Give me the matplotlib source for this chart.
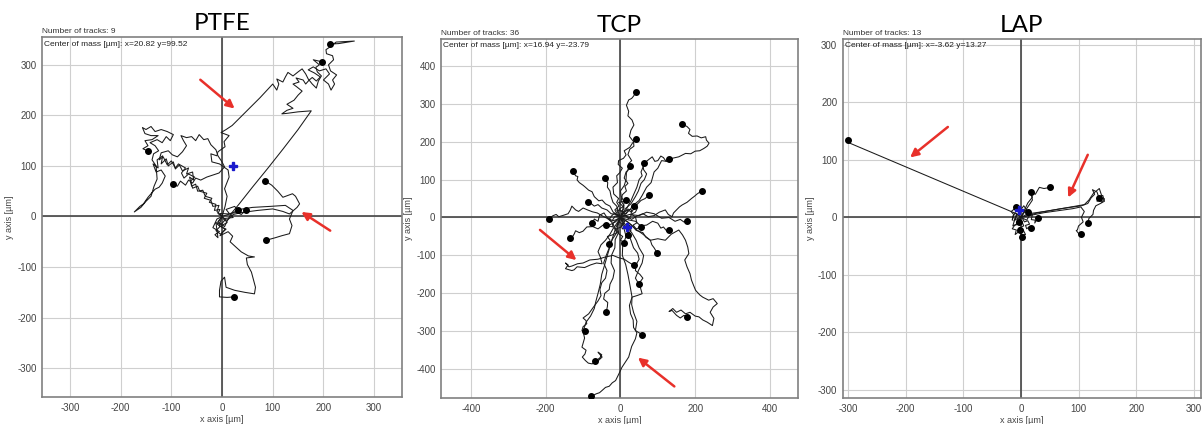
import matplotlib.pyplot as plt

plt.rcParams['axes.unicode_minus'] = False

# ---- data (track points in um, last point = end dot) ----
titles = ['PTFE', 'TCP', 'LAP']
n_tracks = [9, 36, 13]
center_of_mass = [(20.82, 99.52), (16.94, -23.79), (-3.62, 13.27)]

ptfe_tracks = [
    [(0, 0), (-8, -10), (5, -20), (12, -5), (20, 8), (34, 25), (60, 58), (90, 95), (120, 133), (150, 172),
     (176, 209), (150, 207), (128, 204), (118, 203), (128, 210), (140, 214), (128, 222), (142, 230), (150, 240),
     (158, 248), (148, 256), (140, 262), (152, 266), (146, 274), (160, 270), (165, 262), (172, 270), (178, 275),
     (186, 268), (194, 276), (182, 284), (170, 290), (180, 296), (192, 288), (205, 292), (212, 282), (200, 270),
     (210, 262), (215, 250), (222, 262), (218, 270), (226, 280), (214, 288), (210, 300), (220, 310), (218, 318),
     (206, 322), (205, 330), (214, 336), (225, 345), (261, 347), (230, 342), (212, 341)],
    [(0, 0), (6, 20), (10, 40), (5, 55), (14, 78), (12, 92), (-5, 104), (-20, 108), (-22, 124), (-10, 120),
     (-8, 128), (6, 138), (4, 148), (14, 160), (-2, 166), (8, 172), (20, 180), (45, 205), (75, 235), (100, 262),
     (108, 250), (112, 262), (108, 272), (120, 266), (125, 276), (130, 285), (140, 278), (150, 286), (158, 292),
     (165, 282), (170, 272), (178, 262), (186, 254), (190, 268), (196, 278), (188, 286), (185, 295), (192, 300),
     (180, 310), (197, 306)],
    [(0, 0), (10, -8), (22, 4), (40, 8), (70, 12), (100, 15), (120, 10), (133, 5), (148, 18), (153, 25),
     (145, 40), (139, 45), (120, 38), (110, 50), (98, 62), (84, 71)],
    [(0, 0), (18, 6), (35, 14), (60, 18), (95, 20), (125, 22), (140, 12), (133, -5), (138, -18), (133, -34),
     (118, -38), (105, -42), (87, -47)],
    [(0, 0), (-6, -18), (8, -25), (-3, -35), (-12, -28), (-4, -20), (10, -12), (4, -4), (22, -2), (16, 6),
     (30, 8), (38, 4), (47, 12)],
    [(0, 0), (-10, -5), (-18, -22), (-5, -30), (-14, -36), (-8, -42), (-12, -12), (-2, -16), (5, -8), (-4, 6),
     (15, 5), (8, 14), (25, 20), (31, 12)],
    [(0, 0), (-10, -15), (6, -25), (-4, -38), (12, -30), (21, -39), (16, -50), (28, -61), (38, -70), (52, -78),
     (64, -80), (48, -82), (50, -95), (58, -110), (62, -125), (66, -140), (64, -153), (45, -150), (25, -146),
     (8, -140), (5, -120), (-2, -128), (-5, -146), (-5, -159), (10, -160), (24, -159)],
    [(0, 0), (-8, 6), (-4, 14), (-15, 12), (-12, 24), (-25, 28), (-20, 36), (-33, 40), (-38, 52), (-48, 50),
     (-52, 64), (-60, 60), (-64, 78), (-56, 72), (-58, 88), (-70, 84), (-66, 96), (-78, 90), (-84, 102),
     (-92, 94), (-96, 108), (-106, 100), (-110, 114), (-120, 104), (-117, 120), (-128, 112), (-126, 96),
     (-136, 104), (-130, 88), (-120, 92), (-112, 80), (-118, 66), (-124, 58), (-132, 54), (-140, 45),
     (-146, 38), (-155, 25), (-162, 20), (-173, 9), (-160, 18), (-150, 30), (-140, 40), (-134, 60),
     (-128, 74), (-130, 100), (-138, 112), (-135, 124), (-125, 130), (-132, 140), (-142, 146), (-128, 152),
     (-118, 146), (-110, 158), (-102, 150), (-96, 162), (-108, 168), (-120, 172), (-132, 168), (-140, 178),
     (-150, 172), (-157, 176), (-152, 164), (-140, 160), (-126, 160), (-138, 152), (-152, 150), (-146, 140),
     (-156, 134), (-145, 129)],
    [(0, 0), (-10, 10), (-6, 22), (-18, 20), (-22, 32), (-35, 36), (-30, 46), (-44, 50), (-48, 60), (-58, 56),
     (-62, 70), (-54, 78), (-66, 84), (-75, 76), (-80, 86), (-72, 96), (-86, 104), (-92, 96), (-100, 110),
     (-108, 102), (-116, 118), (-124, 112), (-120, 126), (-106, 130), (-98, 122), (-88, 118), (-78, 128),
     (-70, 140), (-76, 150), (-81, 160), (-70, 156), (-60, 158), (-52, 150), (-45, 162), (-36, 152),
     (-28, 154), (-22, 142), (-12, 132), (-8, 120), (0, 108), (5, 98), (-6, 86), (-18, 82), (-30, 78),
     (-42, 72), (-52, 76), (-58, 66), (-66, 72), (-72, 62), (-82, 70), (-88, 60), (-97, 64)],
]

tcp_tracks = [
    [(0, 0), (8, 14), (-4, 22), (10, 30), (2, 44), (5, 60), (16, 70), (12, 82), (20, 90), (10, 104), (15, 120),
     (26, 130), (22, 142), (30, 150), (20, 166), (25, 180), (36, 188), (35, 200), (24, 214), (28, 230),
     (36, 244), (31, 257), (20, 268), (22, 280), (16, 296), (22, 310), (30, 314), (35, 320), (42, 332)],
    [(0, 0), (-8, 8), (-15, 20), (-4, 30), (-10, 40), (-5, 50), (-18, 62), (-20, 80), (-8, 92), (-10, 110),
     (-2, 118), (5, 130), (-6, 140), (-5, 150), (8, 156), (15, 165), (10, 176), (25, 185), (32, 196), (42, 206)],
    [(0, 0), (12, 8), (25, 20), (34, 32), (50, 45), (58, 58), (70, 80), (82, 92), (90, 120), (100, 130),
     (110, 150), (124, 148), (138, 156), (156, 160), (174, 169), (188, 168), (200, 175), (212, 176), (223, 182),
     (232, 188), (237, 196), (230, 204), (228, 213), (216, 210), (205, 215), (192, 214), (182, 222), (186, 232),
     (178, 240), (165, 246)],
    [(0, 0), (6, 12), (15, 25), (28, 36), (40, 55), (48, 70), (55, 90), (64, 100), (70, 115), (62, 126),
     (60, 140), (72, 150), (85, 160), (92, 148), (100, 150), (108, 162), (115, 158), (122, 148), (131, 154)],
    [(0, 0), (-10, 6), (-20, 15), (-28, 30), (-40, 36), (-49, 46), (-58, 44), (-70, 55), (-76, 68), (-85, 72),
     (-94, 80), (-100, 85), (-110, 92), (-116, 99), (-114, 108), (-120, 110), (-127, 122)],
    [(0, 0), (14, 6), (30, -5), (44, 4), (60, 10), (74, 2), (90, 5), (104, 14), (120, 20), (128, 8), (138, 2),
     (142, 12), (150, 20), (158, 28), (165, 33), (178, 40), (190, 50), (198, 56), (205, 62), (217, 70)],
    [(0, 0), (-12, -6), (-25, -10), (-36, -2), (-50, 5), (-62, 12), (-75, 15), (-88, 20), (-100, 25),
     (-112, 16), (-120, 20), (-130, 30), (-134, 20), (-140, 10), (-152, 6), (-165, 2), (-172, 8), (-180, 5),
     (-192, -3)],
    [(0, 0), (-14, -12), (-30, -20), (-44, -18), (-60, -30), (-74, -24), (-90, -25), (-100, -36), (-110, -40),
     (-120, -35), (-124, -44), (-128, -50), (-135, -55)],
    [(0, 0), (-10, -16), (-20, -30), (-28, -44), (-40, -60), (-52, -72), (-60, -90), (-54, -104), (-49, -122),
     (-64, -120), (-80, -125), (-96, -132), (-116, -130), (-124, -138), (-130, -140), (-147, -135),
     (-140, -125), (-147, -120), (-138, -130), (-130, -128), (-115, -122), (-100, -120), (-82, -112),
     (-60, -110), (-40, -104), (-20, -100), (-5, -106), (10, -110), (22, -118), (36, -126)],
    [(0, 0), (-6, -20), (-10, -40), (-22, -58), (-30, -80), (-38, -100), (-45, -120), (-36, -140), (-40, -160),
     (-50, -172), (-55, -190), (-52, -206), (-60, -220), (-72, -236), (-85, -254), (-100, -265), (-92, -272),
     (-90, -280), (-100, -288), (-103, -298), (-94, -300)],
    [(0, 0), (-12, -26), (-20, -50), (-28, -76), (-35, -100), (-42, -124), (-50, -150), (-54, -176),
     (-60, -200), (-66, -222), (-70, -240), (-80, -260), (-92, -276), (-100, -300), (-96, -318), (-103, -342),
     (-92, -350), (-95, -360), (-102, -368), (-94, -377), (-86, -384), (-76, -386), (-62, -380), (-49, -368),
     (-56, -360), (-60, -355), (-50, -362), (-55, -370), (-67, -379)],
    [(0, 0), (-8, -18), (-5, -40), (-14, -58), (-15, -80), (-24, -100), (-25, -120), (-16, -140), (-20, -160),
     (-28, -176), (-30, -190), (-42, -200), (-45, -215), (-34, -224), (-35, -235), (-38, -249)],
    [(0, 0), (8, -24), (15, -50), (6, -74), (5, -100), (14, -124), (20, -150), (26, -182), (31, -210),
     (24, -232), (27, -254), (34, -270), (35, -290), (44, -304), (40, -320), (30, -340), (22, -368), (14, -380),
     (4, -395), (-4, -412), (-13, -430), (-22, -436), (-30, -445), (-40, -448), (-49, -456), (-56, -462),
     (-65, -465), (-79, -472)],
    [(0, 0), (14, -20), (30, -40), (42, -60), (50, -80), (62, -100), (58, -120), (48, -140), (40, -160),
     (52, -180), (58, -201), (44, -206), (31, -210), (30, -230), (35, -250), (44, -274), (40, -298), (50, -304),
     (58, -309)],
    [(0, 0), (20, -12), (40, -30), (60, -44), (80, -60), (100, -56), (120, -60), (136, -44), (156, -33),
     (166, -46), (174, -60), (180, -78), (183, -95), (172, -112), (178, -130), (186, -148), (190, -165),
     (196, -180), (201, -192), (212, -204), (220, -210), (236, -218), (248, -214), (259, -227), (248, -236),
     (240, -250), (250, -266), (246, -285), (232, -276), (220, -270), (210, -262), (200, -260), (186, -250),
     (174, -254), (162, -244), (150, -250), (140, -240), (130, -248), (138, -245), (150, -258), (160, -265),
     (170, -258), (179, -263)],
    [(0, 0), (10, -20), (20, -40), (28, -60), (35, -80), (46, -94), (50, -110), (42, -124), (40, -140),
     (52, -150), (60, -160), (54, -168), (49, -176)],
    [(0, 0), (14, -8), (30, -20), (42, -34), (60, -40), (68, -52), (80, -60), (84, -72), (90, -80), (98, -93)],
    [(0, 0), (20, -6), (40, -10), (54, -22), (70, -20), (86, -10), (100, -15), (108, -28), (115, -25),
     (124, -36), (131, -33)],
    [(0, 0), (24, 8), (50, 5), (70, 14), (90, 10), (110, -2), (130, 0), (146, -10), (160, -5), (170, -12),
     (177, -9)],
    [(0, 0), (8, 14), (20, 20), (30, 14), (40, 30), (48, 38), (55, 45), (66, 50), (76, 59)],
    [(0, 0), (-6, 16), (-10, 30), (-20, 40), (-25, 55), (-28, 70), (-35, 80), (-34, 92), (-42, 103)],
    [(0, 0), (6, 20), (10, 40), (2, 56), (0, 70), (10, 84), (15, 100), (16, 118), (25, 136)],
    [(0, 0), (12, 14), (20, 30), (28, 44), (35, 60), (44, 80), (50, 100), (58, 110), (55, 120), (60, 132),
     (62, 143)],
    [(0, 0), (-12, 8), (-25, 10), (-36, 20), (-50, 25), (-60, 34), (-70, 30), (-80, 38), (-87, 41)],
    [(0, 0), (-8, 6), (-15, 12), (-24, 4), (-30, -5), (-22, -14), (-20, -25), (-32, -22), (-40, -20)],
    [(0, 0), (6, -6), (12, -10), (2, -20), (5, -30), (16, -26), (25, -20), (28, -34), (20, -45)],
    [(0, 0), (-6, 10), (-10, 20), (4, 16), (10, 25), (2, 34), (-5, 40), (8, 42), (15, 45)],
    [(0, 0), (-10, -6), (-20, -15), (-16, -28), (-10, -40), (-22, -46), (-35, -50), (-28, -60), (-30, -70)],
    [(0, 0), (12, 6), (22, -4), (30, 8), (40, 2), (44, -14), (34, -20), (42, -30), (55, -25)],
    [(0, 0), (-14, 4), (-22, -8), (-36, 0), (-44, 12), (-56, 6), (-60, -10), (-70, -4), (-75, -15)],
    [(0, 0), (4, 12), (16, 10), (20, 22), (30, 20), (28, 8), (40, 14), (46, 26), (36, 30)],
    [(0, 0), (-4, -12), (8, -18), (0, -26), (-12, -30), (-6, -42), (6, -50), (0, -60), (10, -66)],
]

lap_tracks = [
    [(0, 0), (-5, 5), (-302, 131), (-298, 137), (-300, 135)],
    [(0, 0), (12, 6), (40, 10), (70, 15), (105, 20), (116, 24), (122, 34), (128, 40), (124, 48), (132, 44),
     (135, 35), (142, 38), (145, 28), (138, 24), (130, 20), (126, 12), (125, 5), (118, -2), (116, -10)],
    [(0, 0), (30, 8), (70, 15), (110, 22), (118, 30), (126, 42), (130, 45), (136, 50), (140, 38), (132, 28),
     (138, 34), (145, 32), (140, 26), (135, 33)],
    [(0, 0), (40, 8), (90, 15), (104, 18), (110, 10), (105, 0), (108, -8), (100, -15), (98, -22), (96, -23),
     (100, -28), (105, -29)],
    [(0, 0), (10, 15), (20, 30), (17, 44), (25, 40), (32, 52), (40, 50), (51, 52)],
    [(0, 0), (5, 10), (12, 25), (20, 35), (17, 44)],
    [(0, 0), (-6, -4), (-8, -10), (2, -8), (5, -15), (-3, -18), (-5, -25), (4, -22), (8, -30), (0, -30),
     (2, -35)],
    [(0, 0), (6, -3), (10, -5), (14, 2), (20, 5), (18, -4), (25, -5), (24, -10), (29, -2)],
    [(0, 0), (-5, 4), (-10, 8), (-14, 2), (-15, -5), (-12, 4), (-17, 10), (-12, 14), (-8, 18)],
    [(0, 0), (4, 6), (8, 12), (0, 10), (-5, 15), (2, 16), (5, 20), (9, 14), (12, 10)],
    [(0, 0), (-3, -6), (-5, -12), (-11, -14), (-15, -20), (-8, -22), (-10, -30), (-5, -26), (-2, -22)],
    [(0, 0), (4, -4), (6, -8), (12, -6), (15, -12), (8, -14), (10, -20), (15, -16), (18, -18)],
    [(0, 0), (-6, -2), (-12, -6), (-6, 4), (-8, 5), (-12, -8), (-14, -15), (-8, -12), (-4, -8)],
]

# red arrows (start, end)
ptfe_arrows = [((-47, 274), (29, 210)), ((218, -31), (152, 12))]
tcp_arrows = [((-221, -28), (-112, -117)), ((150, -450), (41, -365))]
lap_arrows = [((-123, 160), (-196, 101)), ((118, 113), (80, 30))]

all_tracks = [ptfe_tracks, tcp_tracks, lap_tracks]
all_arrows = [ptfe_arrows, tcp_arrows, lap_arrows]
xlims = [(-355, 355), (-480, 475), (-309, 312)]
ylims = [(-357, 355), (-476, 471), (-314, 310)]
xticks = [range(-300, 301, 100), range(-400, 401, 200), range(-300, 301, 100)]
yticks = [range(-300, 301, 100), range(-400, 401, 100), range(-300, 301, 100)]
positions = [[0.0349, 0.0637, 0.299, 0.849], [0.3663, 0.0613, 0.2965, 0.847], [0.700, 0.0613, 0.2973, 0.847]]

fig = plt.figure(figsize=(12.04, 4.24), dpi=100)

for i in range(3):
    ax = fig.add_axes(positions[i])
    ax.set_xlim(xlims[i])
    ax.set_ylim(ylims[i])
    ax.set_xticks(list(xticks[i]))
    ax.set_yticks(list(yticks[i]))
    ax.grid(True, color='#cfcfcf', lw=0.8)
    ax.set_axisbelow(True)
    ax.axhline(0, color='#444444', lw=1.2, zorder=1)
    ax.axvline(0, color='#444444', lw=1.2, zorder=1)
    for s in ax.spines.values():
        s.set_color('#808080')
        s.set_linewidth(1.2)
    ax.tick_params(length=0, labelsize=7, labelcolor='#444444', pad=4)
    for lab in ax.get_xticklabels() + ax.get_yticklabels():
        lab.set_family('Liberation Sans')

    for tr in all_tracks[i]:
        xs = [p[0] for p in tr]
        ys = [p[1] for p in tr]
        ax.plot(xs, ys, color='#1a1a1a', lw=0.75, zorder=2)
        ax.plot(xs[-1], ys[-1], 'o', color='black', ms=4, zorder=3)

    cx, cy = center_of_mass[i]
    ax.plot(cx, cy, marker='P', color='#1a1acc', ms=6, zorder=4)

    for start, end in all_arrows[i]:
        ax.annotate('', xy=end, xytext=start,
                    arrowprops=dict(arrowstyle='-|>', color='#e8302a', lw=1.8, mutation_scale=12),
                    zorder=5)

    ax.set_title(titles[i], fontsize=17.5, family='Lato', pad=5)
    ax.text(0, 1.006, f'Number of tracks: {n_tracks[i]}', transform=ax.transAxes,
            fontsize=6, family='Liberation Sans', color='#333333', va='bottom', ha='left')
    ax.text(0.005, 0.99, f'Center of mass [\u00b5m]: x={cx} y={cy}', transform=ax.transAxes,
            fontsize=6, family='Liberation Sans', color='#222222', va='top', ha='left')
    ax.set_xlabel('x axis [\u00b5m]', fontsize=6.5, family='Liberation Sans', color='#444444', labelpad=2)
    ax.set_ylabel('y axis [\u00b5m]', fontsize=6.5, family='Liberation Sans', color='#444444', labelpad=2)

fig.savefig('out.png', dpi=100)
